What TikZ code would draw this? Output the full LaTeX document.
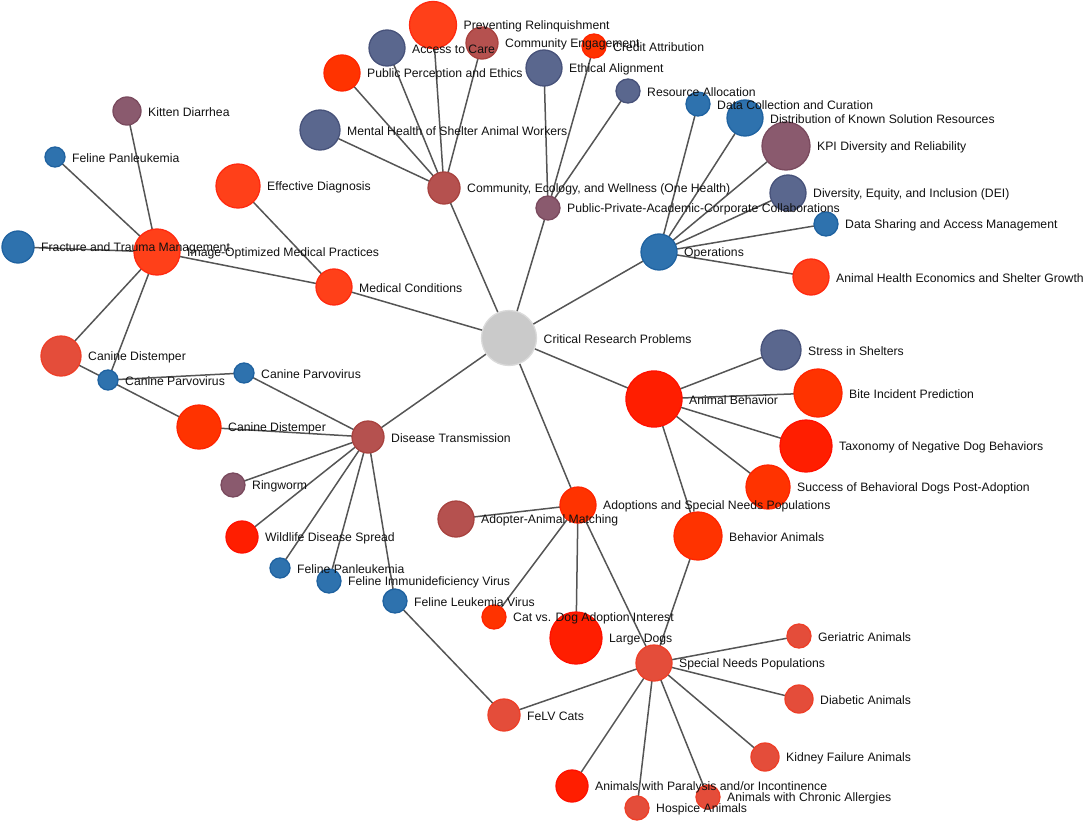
\documentclass[tikz,border=0pt]{standalone}
\usepackage{fontspec}
\setmainfont{Liberation Sans}
\pgfdeclarelayer{background}
\pgfdeclarelayer{fg}
\pgfsetlayers{background,main,fg}
\definecolor{cgrayF}{HTML}{CACACA}\definecolor{cgrayD}{HTML}{DADADA}
\definecolor{cbrownF}{HTML}{B5514F}\definecolor{cbrownD}{HTML}{A8423F}
\definecolor{cmauveF}{HTML}{8A5A6E}\definecolor{cmauveD}{HTML}{7A4A5E}
\definecolor{cslateF}{HTML}{5A678E}\definecolor{cslateD}{HTML}{47527A}
\definecolor{cblueF}{HTML}{2E72AE}\definecolor{cblueD}{HTML}{1F62A0}
\definecolor{corF}{HTML}{FF4019}\definecolor{corD}{HTML}{FF2A10}
\definecolor{coF}{HTML}{FF3300}\definecolor{coD}{HTML}{FF2400}
\definecolor{credF}{HTML}{FF1E00}\definecolor{credD}{HTML}{FF1000}
\definecolor{ctomF}{HTML}{E44D3A}\definecolor{ctomD}{HTML}{EE3F28}
\definecolor{edgecol}{HTML}{555555}
\definecolor{labcol}{HTML}{111111}
\tikzset{
  nd/.style={circle,inner sep=0pt,outer sep=0pt,line width=1.3pt},
  cgray/.style={fill=cgrayF,draw=cgrayD},
  cbrown/.style={fill=cbrownF,draw=cbrownD},
  cmauve/.style={fill=cmauveF,draw=cmauveD},
  cslate/.style={fill=cslateF,draw=cslateD},
  cblue/.style={fill=cblueF,draw=cblueD},
  cor/.style={fill=corF,draw=corD},
  co/.style={fill=coF,draw=coD},
  cred/.style={fill=credF,draw=credD},
  ctom/.style={fill=ctomF,draw=ctomD},
  lab/.style={anchor=west,inner sep=0pt,font=\fontsize{12.2pt}{14pt}\selectfont,text=labcol},
  edge/.style={draw=edgecol,line width=1.5pt}
}
\newcommand{\gnode}[6]{%
  \node[nd,#5,minimum size=#4*2pt] (#1) at (#2,#3) {};
  \begin{pgfonlayer}{fg}\node[lab] (#1-l) at ([xshift=7pt,yshift=-1.5pt]#1.east) {#6};\end{pgfonlayer}}
\begin{document}
\begin{tikzpicture}[x=1pt,y=-1pt]
\useasboundingbox (0,0) rectangle (1084,824);
% level 0 and 1
\gnode{crp}{509}{338}{27.5}{cgray}{Critical Research Problems}
\gnode{comm}{444}{188}{16}{cbrown}{Community, Ecology, and Wellness (One Health)}
\gnode{ppac}{548}{208}{12}{cmauve}{Public-Private-Academic-Corporate Collaborations}
\gnode{ops}{659}{252}{18}{cblue}{Operations}
\gnode{med}{334}{287}{18}{cor}{Medical Conditions}
\gnode{beh}{654}{399}{28}{cred}{Animal Behavior}
\gnode{dis}{368}{437}{16}{cbrown}{Disease Transmission}
\gnode{adopt}{578}{505}{18}{co}{Adoptions and Special Needs Populations}
% community
\gnode{prev}{433}{25}{23.5}{cor}{Preventing Relinquishment}
\gnode{access}{387}{48}{18}{cslate}{Access to Care}
\gnode{cengage}{482}{43}{16}{cbrown}{Community Engagement}
\gnode{pubper}{342}{73}{18}{co}{Public Perception and Ethics}
\gnode{mental}{320}{130}{20}{cslate}{Mental Health of Shelter Animal Workers}
% public-private
\gnode{ethic}{544}{68}{18}{cslate}{Ethical Alignment}
\gnode{credit}{594}{46}{12}{co}{Credit Attribution}
\gnode{resalloc}{628}{91}{12}{cslate}{Resource Allocation}
% operations
\gnode{datacoll}{698}{104}{12}{cblue}{Data Collection and Curation}
\gnode{distrib}{745}{118}{18}{cblue}{Distribution of Known Solution Resources}
\gnode{kpi}{786}{146}{24}{cmauve}{KPI Diversity and Reliability}
\gnode{dei}{788}{193}{18}{cslate}{Diversity, Equity, and Inclusion (DEI)}
\gnode{datashare}{826}{224}{12}{cblue}{Data Sharing and Access Management}
\gnode{econ}{811}{277}{18}{cor}{Animal Health Economics and Shelter Growth}
% medical
\gnode{effdiag}{238}{186}{22}{cor}{Effective Diagnosis}
\gnode{imgopt}{157}{252}{23}{cor}{Image-Optimized Medical Practices}
\gnode{kitten}{127}{111}{14}{cmauve}{Kitten Diarrhea}
\gnode{felpan1}{55}{157}{10}{cblue}{Feline Panleukemia}
\gnode{fract}{18}{247}{16}{cblue}{Fracture and Trauma Management}
\gnode{cdist1}{61}{356}{20}{ctom}{Canine Distemper}
\gnode{cparvo1}{108}{380}{10}{cblue}{Canine Parvovirus}
\gnode{cparvo2}{244}{373}{10}{cblue}{Canine Parvovirus}
\gnode{cdist2}{199}{427}{22}{co}{Canine Distemper}
% disease
\gnode{ring}{233}{485}{12}{cmauve}{Ringworm}
\gnode{wild}{242}{537}{16}{cred}{Wildlife Disease Spread}
\gnode{felpan2}{280}{568}{10}{cblue}{Feline Panleukemia}
\gnode{fiv}{329}{581}{12}{cblue}{Feline Immunideficiency Virus}
\gnode{felv}{395}{601}{12}{cblue}{Feline Leukemia Virus}
\gnode{felvcats}{504}{715}{16}{ctom}{FeLV Cats}
% behavior
\gnode{stress}{781}{350}{20}{cslate}{Stress in Shelters}
\gnode{bite}{818}{393}{24}{co}{Bite Incident Prediction}
\gnode{taxo}{806}{446}{26}{cred}{Taxonomy of Negative Dog Behaviors}
\gnode{success}{768}{487}{22}{co}{Success of Behavioral Dogs Post-Adoption}
\gnode{behanim}{698}{536}{24}{co}{Behavior Animals}
% adoptions
\gnode{adopter}{456}{519}{18}{cbrown}{Adopter-Animal Matching}
\gnode{catdog}{494}{617}{12}{co}{Cat vs. Dog Adoption Interest}
\gnode{large}{576}{638}{26}{cred}{Large Dogs}
\gnode{special}{654}{663}{18}{ctom}{Special Needs Populations}
% special needs
\gnode{geri}{799}{636}{12}{ctom}{Geriatric Animals}
\gnode{diab}{799}{699}{14}{ctom}{Diabetic Animals}
\gnode{kidney}{765}{757}{14}{ctom}{Kidney Failure Animals}
\gnode{allerg}{708}{797}{12}{ctom}{Animals with Chronic Allergies}
\gnode{hospice}{637}{808}{12}{ctom}{Hospice Animals}
\gnode{paral}{572}{786}{16}{cred}{Animals with Paralysis and/or Incontinence}
\begin{pgfonlayer}{background}
\foreach \a/\b in {crp/comm,crp/ppac,crp/ops,crp/med,crp/beh,crp/dis,crp/adopt,
  comm/prev,comm/access,comm/cengage,comm/pubper,comm/mental,
  ppac/ethic,ppac/credit,ppac/resalloc,
  ops/datacoll,ops/distrib,ops/kpi,ops/dei,ops/datashare,ops/econ,
  med/effdiag,med/imgopt,
  imgopt/kitten,imgopt/felpan1,imgopt/fract,imgopt/cdist1,imgopt/cparvo1,
  cparvo1/cdist1,cparvo1/cdist2,cparvo1/cparvo2,
  dis/cparvo2,dis/cdist2,dis/ring,dis/wild,dis/felpan2,dis/fiv,dis/felv,
  felv/felvcats,
  beh/stress,beh/bite,beh/taxo,beh/success,beh/behanim,
  adopt/adopter,adopt/catdog,adopt/large,adopt/special,
  behanim/special,
  special/geri,special/diab,special/kidney,special/allerg,special/hospice,special/paral,special/felvcats}
  \draw[edge] (\a) -- (\b);
\end{pgfonlayer}
\end{tikzpicture}
\end{document}
